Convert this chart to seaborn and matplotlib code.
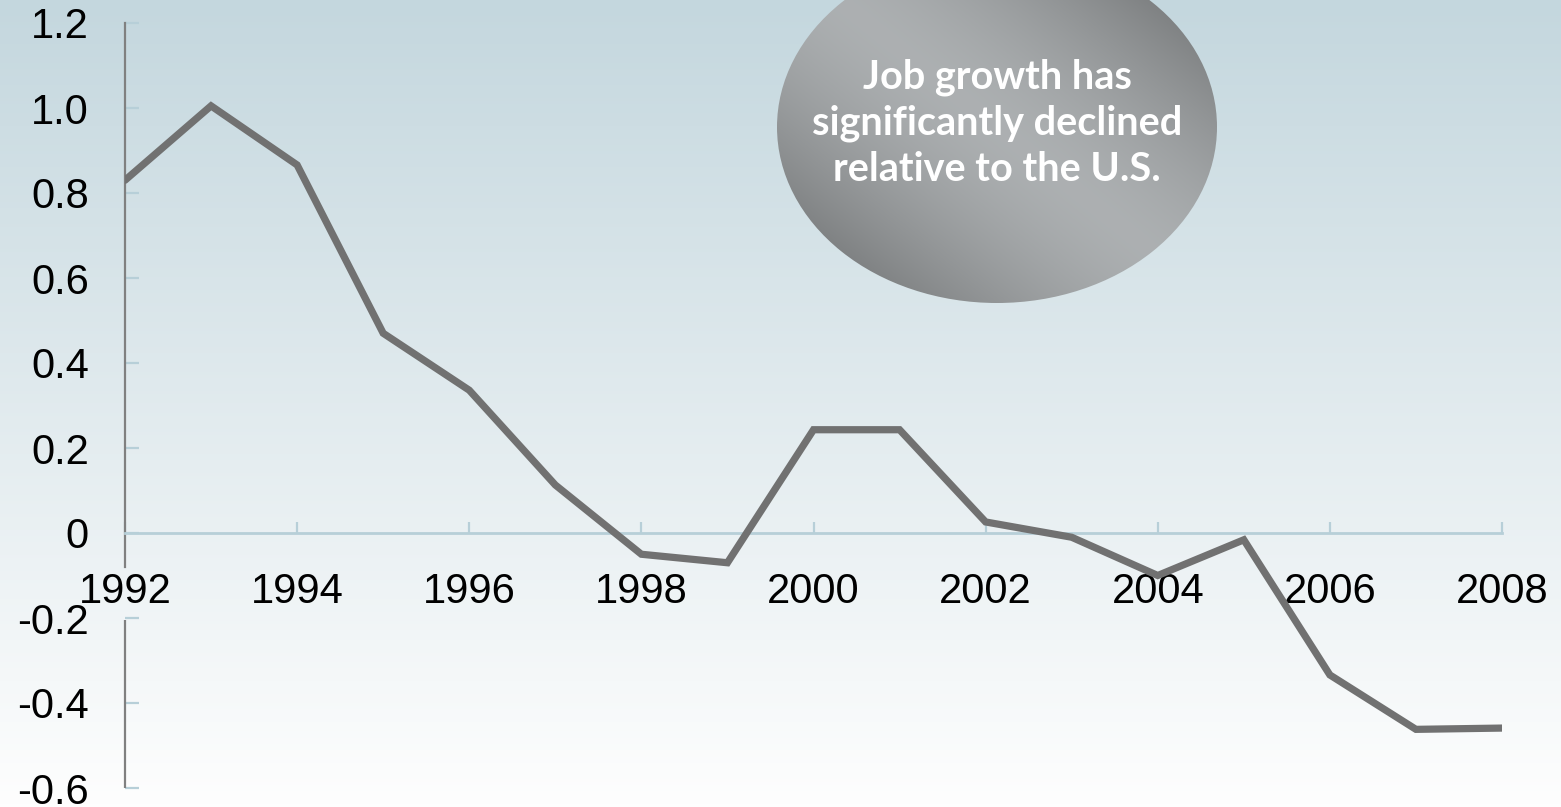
# Job growth relative to the U.S. (line chart with callout bubble)

import numpy as np
import pandas as pd
import matplotlib
matplotlib.use("Agg")
import matplotlib.pyplot as plt
from matplotlib.patches import Ellipse
import seaborn as sns

# Data
years = [1992, 1993, 1994, 1995, 1996, 1997, 1998, 1999, 2000,
         2001, 2002, 2003, 2004, 2005, 2006, 2007, 2008]
growth = [0.83, 1.005, 0.866, 0.47, 0.336, 0.113, -0.05, -0.07, 0.243,
          0.243, 0.026, -0.01, -0.10, -0.016, -0.334, -0.462, -0.459]

y_ticks = [-0.6, -0.4, -0.2, 0, 0.2, 0.4, 0.6, 0.8, 1.0, 1.2]
y_labels = ["-0.6", "-0.4", "-0.2", "0", "0.2", "0.4", "0.6", "0.8", "1.0", "1.2"]
x_ticks = [1992, 1994, 1996, 1998, 2000, 2002, 2004, 2006, 2008]
x_labels = [str(t) for t in x_ticks]

callout = "Job growth has\nsignificantly declined\nrelative to the U.S."

df = pd.DataFrame({"year": years, "growth": growth})

sns.set_style("white")
plt.rcParams["font.family"] = ["Liberation Sans", "DejaVu Sans"]

W, H = 1561, 807
fig = plt.figure(figsize=(W / 100, H / 100), dpi=100)

# Background gradient (blue-grey at top to white at bottom)
bg = fig.add_axes([0, 0, 1, 1])
bg.set_xlim(0, W)
bg.set_ylim(H, 0)
bg.axis("off")
top = np.array([196, 215, 222]) / 255
bot = np.array([254, 254, 254]) / 255
t = np.linspace(0, 1, 256)[:, None, None]
grad = top * (1 - t) + bot * t
grad = np.repeat(grad, 2, axis=1)
bg.imshow(grad, extent=[0, W, H, 0], aspect="auto", zorder=0)

# Callout bubble with grey diagonal gradient
cx, cy, ew, eh = 997, 127, 440, 352
xx, yy = np.meshgrid(np.linspace(-1, 1, 300), np.linspace(-1, 1, 300))
d = (xx - yy) / 2.0  # distance across the light diagonal band
shade = 0.69 - 0.30 * np.abs(d) ** 1.5
shade = np.clip(shade, 0, 1)
rgb = np.dstack([shade * 0.98, shade, shade * 1.01])
rgb = np.clip(rgb, 0, 1)
im = bg.imshow(rgb, extent=[cx - ew / 2, cx + ew / 2, cy + eh / 2, cy - eh / 2],
               aspect="auto", zorder=1)
ell = Ellipse((cx, cy), ew, eh, transform=bg.transData, facecolor="none", edgecolor="none")
bg.add_patch(ell)
im.set_clip_path(ell)
bg.text(cx, 123, callout, ha="center", va="center", color="white",
        fontsize=28.5, fontweight="bold", family=["Lato", "DejaVu Sans"],
        linespacing=1.3, zorder=2)

# Main chart
left, right = 125 / W, 1502 / W
bottom, topf = 1 - 788 / H, 1 - 23 / H
ax = fig.add_axes([left, bottom, right - left, topf - bottom])
ax.patch.set_alpha(0)

sns.lineplot(data=df, x="year", y="growth", ax=ax, color="#717171",
             linewidth=5.2, solid_joinstyle="miter", zorder=5)

ax.set_xlim(1992, 2008)
ax.set_ylim(-0.6, 1.2)
ax.set_xticks(x_ticks)
ax.set_xticklabels(x_labels)
ax.set_yticks(y_ticks)
ax.set_yticklabels(y_labels)
ax.set_xlabel("")
ax.set_ylabel("")

ax.spines["top"].set_visible(False)
ax.spines["right"].set_visible(False)
ax.spines["bottom"].set_position(("data", 0))
ax.spines["bottom"].set_color("#b7cfd8")
ax.spines["bottom"].set_linewidth(2)
ax.spines["left"].set_color("#808080")
ax.spines["left"].set_linewidth(1.6)
ax.spines["left"].set_bounds(-0.08, 1.2)
ax.vlines(1992, -0.6, -0.205, color="#808080", linewidth=1.6, clip_on=False, zorder=3)

ax.tick_params(axis="x", bottom=True, direction="in", length=8, width=1.6,
               color="#b7cfd8", labelsize=30, pad=28, labelcolor="black")
ax.tick_params(axis="y", left=True, direction="in", length=10, width=1.6,
               color="#b7cfd8", labelsize=30, pad=26, labelcolor="black")
ax.grid(False)

plt.savefig("out.png", dpi=100)
